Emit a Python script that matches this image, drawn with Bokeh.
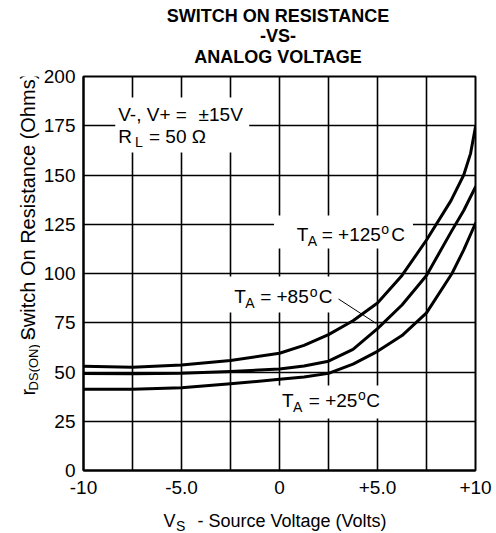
import math
from bokeh.plotting import figure
from bokeh.models import Range1d, FixedTicker, Label, BoxAnnotation, Arrow
from bokeh.layouts import column, row
from bokeh.embed import file_html
from bokeh.resources import INLINE

# ---------------- data ----------------
title_lines = ["SWITCH ON RESISTANCE", "-VS-", "ANALOG VOLTAGE"]
x_tick_values = [-10, -5, 0, 5, 10]
x_tick_labels = ["-10", "-5.0", "0", "+5.0", "+10"]
y_tick_values = [0, 25, 50, 75, 100, 125, 150, 175, 200]
x_grid_values = [-10, -7.5, -5, -2.5, 0, 2.5, 5, 7.5, 10]

vs_125 = [-10, -7.5, -5, -2.5, 0, 1.25, 2.5, 3.75, 5, 6.25, 7.5, 8.75, 9.4, 9.75, 10]
r_125 = [52.9, 52.4, 53.6, 55.8, 59.5, 63.5, 69, 76, 85, 99, 117, 137, 150, 161, 174.5]

vs_85 = [-10, -7.5, -5, -2.5, 0, 1.25, 2.5, 3.75, 5, 6.25, 7.5, 8.75, 9.4, 10]
r_85 = [49.2, 49.1, 49.4, 50.3, 51.5, 53, 55.5, 61.5, 72, 84, 99, 121, 132, 144]

vs_25 = [-10, -7.5, -5, -2.5, 0, 1.25, 2.5, 3.75, 5, 6.25, 7.5, 8.8, 9.4, 10]
r_25 = [41.3, 41.2, 42, 44, 46.3, 47.5, 49.3, 54, 60.5, 68.5, 80, 100, 112, 125.5]

FONT = "Liberation Sans"
BL_SHIFT = 0.32     # em: correction so that a label's y is its glyph baseline

# page layout (pixels)
PAGE_W = 496
TOP_H = 66          # title strip
LEFT_W = 40         # y-title strip
MAIN_H = 439        # main figure height
BOT_H = 28          # x-title strip
FRAME_L, FRAME_R, FRAME_T, FRAME_B = 80, 475, 76, 470   # plot frame on the page

def strip(x0, y0, w, h):
    f = figure(width=w, height=h, x_range=Range1d(x0, x0 + w), y_range=Range1d(y0 + h, y0),
               output_backend="svg", toolbar_location=None, title=None,
               x_axis_location=None, y_axis_location=None,
               min_border_left=0, min_border_right=0, min_border_top=0, min_border_bottom=0)
    f.outline_line_color = None
    f.background_fill_color = "white"
    f.border_fill_color = "white"
    f.grid.visible = False
    return f

def lab(fig, text, x, y, size=19, style="normal", align="left", angle=0.0):
    fig.add_layout(Label(x=x, y=y, text=text, text_font=FONT,
                         text_font_size=f"{size}px", text_font_style=style,
                         text_align=align, text_baseline="alphabetic",
                         text_color="black", angle=angle))

def slab(fig, text, px, py, size=19, style="normal", align="left", rotated=False):
    """label in a strip figure whose data units are page pixels (y downwards)."""
    if rotated:
        lab(fig, text, px - BL_SHIFT * size, py, size, style, align, math.pi / 2)
    else:
        lab(fig, text, px, py - BL_SHIFT * size, size, style, align)

# ---------------- main plot ----------------
main_w = PAGE_W - LEFT_W
p = figure(width=main_w, height=MAIN_H, x_range=Range1d(-10, 10), y_range=Range1d(0, 200),
           output_backend="svg", toolbar_location=None, title=None,
           min_border_left=FRAME_L - LEFT_W, min_border_right=PAGE_W - FRAME_R,
           min_border_top=FRAME_T - TOP_H, min_border_bottom=TOP_H + MAIN_H - FRAME_B)
p.background_fill_color = "white"
p.border_fill_color = "white"
p.outline_line_color = "black"
p.outline_line_width = 2

for ax in (p.xaxis, p.yaxis):
    ax.axis_line_color = "black"
    ax.axis_line_width = 2
    ax.major_tick_line_color = None
    ax.minor_tick_line_color = None
    ax.major_tick_out = 0
    ax.major_tick_in = 0
    ax.major_label_text_font = FONT
    ax.major_label_text_font_size = "19px"
    ax.major_label_text_color = "black"

p.xaxis.ticker = FixedTicker(ticks=x_tick_values)
p.xaxis.major_label_overrides = {v: s for v, s in zip(x_tick_values, x_tick_labels)}
p.xaxis.major_label_standoff = 10
p.yaxis.ticker = FixedTicker(ticks=y_tick_values)
p.yaxis.major_label_standoff = 8

p.xgrid.ticker = FixedTicker(ticks=x_grid_values)
p.ygrid.ticker = FixedTicker(ticks=y_tick_values)
for g in (p.xgrid, p.ygrid):
    g.grid_line_color = "black"
    g.grid_line_width = 1.6
    g.grid_line_alpha = 1.0

for xs, ys in ((vs_125, r_125), (vs_85, r_85), (vs_25, r_25)):
    p.line(xs, ys, line_width=3, line_color="black", line_join="round", line_cap="round")

# page-pixel -> data helpers for annotations inside the frame
def vx(px):
    return (px - FRAME_L) / ((FRAME_R - FRAME_L) / 20.0) - 10

def ry(py):
    return (FRAME_B - py) / ((FRAME_B - FRAME_T) / 200.0)

for l, r, t, b in ((112, 247, 97, 152), (272, 412, 215, 248),
                   (222, 336, 276, 312), (272, 385, 385, 418)):
    p.add_layout(BoxAnnotation(left=vx(l), right=vx(r), top=ry(t), bottom=ry(b),
                               fill_color="white", fill_alpha=1.0, line_color=None))

def plab(text, px, py, size=19):
    lab(p, text, vx(px), ry(py - BL_SHIFT * size), size=size)

plab("V-, V+ =", 115, 120)
plab("±15V", 196, 120)
plab("R", 115, 142)
plab("L", 132, 146, size=14)
plab("= 50 Ω", 146, 142)

def temp_label(num, tx, bl, eq_x, o_x, c_x):
    plab("T", tx, bl)
    plab("A", tx + 11, bl + 4.5, size=14)
    plab("= +" + num, eq_x, bl)
    plab("o", o_x, bl - 7, size=14)
    plab("C", c_x, bl)

temp_label("125", 295, 240, 320, 380, 390)
temp_label("85", 232, 302.5, 258, 308, 317)
temp_label("25", 280, 406, 307, 356.5, 365)

p.add_layout(Arrow(end=None, x_start=vx(337), y_start=ry(298.5),
                   x_end=vx(375), y_end=ry(323), line_color="black", line_width=1))

# ---------------- title strip ----------------
top = strip(0, 0, PAGE_W, TOP_H)
for txt, bl in zip(title_lines, (21, 41.5, 62)):
    slab(top, txt, 277.5, bl, size=18, style="bold", align="center")

# ---------------- y-title strip (pieces centred on their own midpoints) ----------------
left = strip(0, TOP_H, LEFT_W, MAIN_H)
slab(left, "r", 34, 417.7, size=20, align="center", rotated=True)
slab(left, "DS(ON)", 37, 390, size=13, align="center", rotated=True)
slab(left, "-", 34, 356, size=20, align="center", rotated=True)
slab(left, "Switch On Resistance (Ohms)", 34, 211, size=20, align="center", rotated=True)

# ---------------- x-title strip ----------------
bot = strip(0, TOP_H + MAIN_H, PAGE_W, BOT_H)
slab(bot, "V", 163, 526, size=18)
slab(bot, "S", 175.5, 530, size=14)
slab(bot, "- Source Voltage (Volts)", 197, 526, size=18)

layout = column(top, row(left, p, spacing=0), bot, spacing=0)
open("out.html", "w").write(file_html(layout, INLINE))
